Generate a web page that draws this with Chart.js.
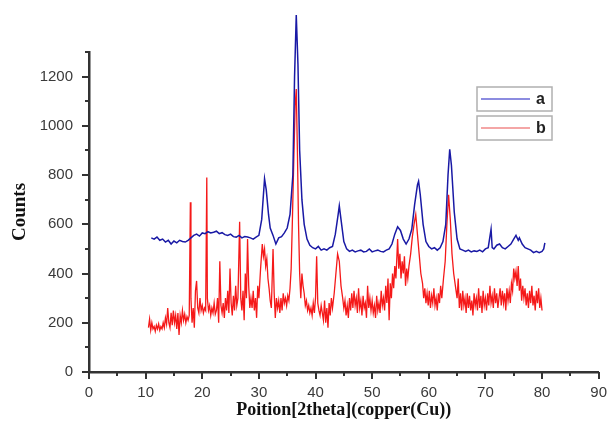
<!DOCTYPE html>
<html>
<head>
<meta charset="utf-8">
<script src="https://cdn.jsdelivr.net/npm/chart.js@4.4.1/dist/chart.umd.min.js"></script>
<style>
  html, body { margin: 0; padding: 0; background: #fff; }
  #wrap { width: 611px; height: 430px; position: relative; }
</style>
</head>
<body>
<div id="wrap"><canvas id="xrd"></canvas></div>
<script>
// sample a (blue)
const angleA = [
  11, 11.5, 12, 12.5, 13, 13.5, 14, 14.5, 15, 15.5,
  16, 16.5, 17, 17.5, 18, 18.5, 19, 19.5, 20, 20.5,
  21, 21.5, 22, 22.5, 23, 23.5, 24, 24.5, 25, 25.5,
  26, 26.5, 27, 27.5, 28, 28.5, 29, 29.5, 30, 30.5,
  31, 31.3, 31.7, 32, 32.5, 33, 33.5, 34, 34.5, 35,
  35.5, 36, 36.3, 36.6, 36.9, 37.2, 37.6, 38, 38.5, 39,
  39.5, 40, 40.5, 41, 41.5, 42, 42.5, 43, 43.5, 44,
  44.2, 44.5, 45, 45.5, 46, 46.5, 47, 47.5, 48, 48.5,
  49, 49.5, 50, 50.5, 51, 51.5, 52, 52.5, 53, 53.5,
  54, 54.5, 55, 55.5, 56, 56.5, 57, 57.5, 58, 58.2,
  58.5, 59, 59.5, 60, 60.5, 61, 61.5, 62, 62.5, 63,
  63.4, 63.7, 64, 64.5, 65, 65.5, 66, 66.5, 67, 67.5,
  68, 68.5, 69, 69.5, 70, 70.5, 71, 71.2, 71.5, 72,
  72.5, 73, 73.5, 74, 74.5, 75, 75.4, 75.8, 76, 76.5,
  77, 77.5, 78, 78.5, 79, 79.5, 80, 80.3, 80.5
]
const countsA = [
  545, 540, 548, 535, 540, 528, 535, 520, 532, 525,
  535, 530, 528, 535, 545, 555, 560, 552, 565, 562,
  570, 565, 568, 572, 562, 566, 558, 555, 560, 550,
  548, 555, 545, 550, 548, 545, 540, 548, 555, 620,
  785, 740, 640, 585, 555, 520, 545, 550, 565, 585,
  640, 800, 1200, 1450, 1250, 900, 700, 600, 540, 515,
  505, 500, 510, 495, 500, 495, 505, 510, 560, 640,
  675, 620, 530, 500, 490, 495, 488, 492, 495, 488,
  490, 500, 488, 492, 495, 490, 488, 495, 500, 520,
  560, 590, 575, 540, 520, 540, 580, 680, 760, 775,
  720, 600, 530, 510, 500, 505, 495, 505, 530, 600,
  800, 905, 840, 650, 540, 500, 495, 490, 495, 488,
  492, 490, 495, 488, 500, 505, 580, 505, 500, 515,
  520, 505, 500, 510, 520, 540, 555, 535, 545, 520,
  505, 500, 495, 485, 490, 485, 490, 500, 525
]

// sample b (red)
const angleB = [
  10.5, 10.7, 10.9, 11.1, 11.3, 11.5, 11.7, 11.9, 12.1, 12.3,
  12.5, 12.7, 12.9, 13.1, 13.3, 13.5, 13.7, 13.9, 14.1, 14.3,
  14.5, 14.7, 14.9, 15.1, 15.3, 15.5, 15.7, 15.9, 16.1, 16.3,
  16.5, 16.7, 16.9, 17.1, 17.3, 17.5, 17.7, 17.9, 18, 18.2,
  18.4, 18.6, 18.8, 19, 19.2, 19.4, 19.6, 19.8, 20, 20.2,
  20.4, 20.6, 20.8, 20.9, 21.1, 21.3, 21.5, 21.7, 21.9, 22.1,
  22.3, 22.5, 22.7, 22.9, 23.1, 23.3, 23.5, 23.7, 23.9, 24.1,
  24.3, 24.5, 24.7, 24.9, 25.1, 25.3, 25.5, 25.7, 25.9, 26.1,
  26.3, 26.6, 26.8, 27, 27.2, 27.4, 27.6, 27.8, 28, 28.2,
  28.4, 28.6, 28.8, 29, 29.2, 29.4, 29.6, 29.8, 30, 30.3,
  30.6, 30.8, 31, 31.2, 31.4, 31.6, 31.8, 32, 32.2, 32.5,
  32.7, 32.9, 33.1, 33.3, 33.5, 33.7, 33.9, 34.1, 34.3, 34.5,
  34.7, 34.9, 35.1, 35.3, 35.5, 35.7, 35.9, 36.1, 36.4, 36.6,
  36.8, 37, 37.2, 37.4, 37.6, 37.8, 38, 38.2, 38.4, 38.6,
  38.8, 39, 39.2, 39.4, 39.6, 39.8, 40, 40.2, 40.4, 40.6,
  40.8, 41, 41.2, 41.4, 41.6, 41.8, 42, 42.2, 42.4, 42.6,
  42.8, 43, 43.3, 43.6, 43.9, 44.2, 44.5, 44.8, 45, 45.2,
  45.4, 45.6, 45.8, 46, 46.2, 46.4, 46.6, 46.8, 47, 47.2,
  47.4, 47.6, 47.8, 48, 48.2, 48.4, 48.6, 48.8, 49, 49.2,
  49.4, 49.6, 49.8, 50, 50.2, 50.4, 50.6, 50.8, 51, 51.2,
  51.4, 51.6, 51.8, 52, 52.2, 52.4, 52.6, 52.8, 53, 53.2,
  53.4, 53.6, 53.8, 54, 54.2, 54.5, 54.7, 54.9, 55.1, 55.3,
  55.5, 55.7, 55.9, 56.1, 56.3, 56.5, 56.8, 57.1, 57.4, 57.7,
  58, 58.3, 58.6, 58.9, 59.1, 59.3, 59.5, 59.7, 59.9, 60.1,
  60.3, 60.5, 60.7, 60.9, 61.1, 61.3, 61.5, 61.7, 61.9, 62.1,
  62.3, 62.6, 62.9, 63.2, 63.5, 63.8, 64.1, 64.4, 64.7, 65,
  65.2, 65.4, 65.6, 65.8, 66, 66.2, 66.4, 66.6, 66.8, 67,
  67.2, 67.4, 67.6, 67.8, 68, 68.2, 68.4, 68.6, 68.8, 69,
  69.2, 69.4, 69.6, 69.8, 70, 70.2, 70.4, 70.6, 70.8, 71,
  71.2, 71.4, 71.6, 71.8, 72, 72.2, 72.4, 72.6, 72.8, 73,
  73.2, 73.4, 73.6, 73.8, 74, 74.2, 74.4, 74.6, 74.8, 75,
  75.2, 75.4, 75.6, 75.8, 76, 76.2, 76.4, 76.6, 76.8, 77,
  77.2, 77.4, 77.6, 77.8, 78, 78.2, 78.4, 78.6, 78.8, 79,
  79.2, 79.4, 79.6, 79.8, 80
]
const countsB = [
  180, 215, 170, 200, 175, 185, 165, 190, 175, 195,
  170, 185, 175, 200, 180, 220, 195, 260, 200, 180,
  240, 190, 250, 200, 230, 175, 240, 150, 230, 200,
  250, 210, 235, 200, 225, 210, 230, 690, 300, 200,
  260, 180, 330, 370, 260, 240, 300, 250, 270, 240,
  260, 250, 790, 300, 250, 270, 230, 260, 240, 280,
  235, 250, 300, 200, 450, 270, 240, 280, 220, 300,
  250, 330, 240, 420, 280, 230, 310, 250, 350, 270,
  300, 610, 300, 250, 330, 210, 400, 300, 540, 350,
  260, 300, 260, 330, 250, 300, 220, 350, 300, 420,
  520, 470, 500, 430, 460, 380, 340, 290, 260, 500,
  320, 220, 300, 260, 290, 240, 300, 250, 320, 280,
  300, 270, 310, 290, 340, 420, 600, 800, 1080, 1150,
  900, 600, 400, 300, 400, 350, 320, 270, 290, 250,
  270, 240, 260, 230, 280, 240, 300, 470, 280, 250,
  230, 270, 240, 210, 290, 200, 260, 180, 280, 230,
  300, 260, 320, 400, 480, 450, 350, 300, 260, 290,
  230, 270, 220, 300, 250, 320, 260, 330, 270, 300,
  240, 340, 260, 290, 230, 310, 260, 280, 220, 350,
  260, 300, 250, 290, 240, 270, 220, 310, 250, 280,
  240, 330, 270, 300, 250, 350, 280, 380, 210, 360,
  300, 400, 340, 430, 380, 540, 420, 480, 380, 450,
  400, 470, 350, 420, 380, 430, 480, 550, 600, 640,
  560, 480, 400, 360, 300, 340, 280, 320, 270, 330,
  260, 310, 280, 340, 270, 300, 250, 320, 280, 350,
  300, 380, 450, 600, 720, 620, 480, 400, 350, 300,
  380, 260, 320, 250, 330, 270, 300, 240, 320, 260,
  310, 250, 290, 230, 320, 270, 300, 250, 340, 260,
  310, 240, 330, 270, 300, 250, 320, 270, 350, 280,
  310, 260, 340, 280, 320, 260, 300, 340, 270, 330,
  280, 320, 250, 340, 290, 330, 280, 360, 330, 420,
  380, 410, 350, 430, 330, 380, 290, 350, 300, 340,
  270, 320, 260, 330, 280, 350, 270, 310, 250, 330,
  280, 340, 260, 300, 250
]

const seriesLabels = ['a', 'b']
const axisColor = '#333'

const toPoints = (xs, ys) => xs.map((x, i) => ({ x, y: ys[i] }))

// tick marks: long on labelled ticks, short on the in-between ones
const tickMarks = {
  id: 'tickMarks',
  afterDraw (chart) {
    const ctx = chart.ctx
    const xs = chart.scales.x
    const ys = chart.scales.y
    ctx.save()
    ctx.strokeStyle = axisColor
    ctx.lineWidth = 2
    xs.ticks.forEach(t => {
      const px = Math.round(xs.getPixelForValue(t.value))
      const len = t.value % 10 === 0 ? 7 : 4
      ctx.beginPath()
      ctx.moveTo(px, xs.top)
      ctx.lineTo(px, xs.top + len)
      ctx.stroke()
    })
    ys.ticks.forEach(t => {
      const py = Math.round(ys.getPixelForValue(t.value))
      const len = t.value % 200 === 0 ? 7 : 4
      ctx.beginPath()
      ctx.moveTo(ys.right, py)
      ctx.lineTo(ys.right - len, py)
      ctx.stroke()
    })
    ctx.restore()
  }
}

// one framed box per series, like the original
const boxedLegend = {
  id: 'boxedLegend',
  afterDraw (chart) {
    const ctx = chart.ctx
    const lineColors = ['#8c8ce0', '#f4a6a6']
    ctx.save()
    chart.data.datasets.forEach((ds, i) => {
      const left = 477
      const top = 87 + i * 29
      ctx.fillStyle = '#fff'
      ctx.fillRect(left, top, 75, 24)
      ctx.strokeStyle = '#b0b0b0'
      ctx.lineWidth = 1.5
      ctx.strokeRect(left, top, 75, 24)
      ctx.strokeStyle = lineColors[i]
      ctx.lineWidth = 2
      ctx.beginPath()
      ctx.moveTo(left + 4, top + 12)
      ctx.lineTo(left + 53, top + 12)
      ctx.stroke()
      ctx.fillStyle = '#222'
      ctx.font = 'bold 16px "Liberation Sans", Arial, sans-serif'
      ctx.textBaseline = 'middle'
      ctx.fillText(ds.label, left + 59, top + 13)
    })
    ctx.restore()
  }
}

new Chart(document.getElementById('xrd'), {
  type: 'line',
  data: {
    datasets: [
      {
        label: seriesLabels[0],
        data: toPoints(angleA, countsA),
        borderColor: 'rgb(25, 25, 165)',
        borderWidth: 1.5,
        pointRadius: 0,
        tension: 0,
        clip: false
      },
      {
        label: seriesLabels[1],
        data: toPoints(angleB, countsB),
        borderColor: 'rgb(245, 25, 25)',
        borderWidth: 1.3,
        pointRadius: 0,
        tension: 0,
        clip: false
      }
    ]
  },
  options: {
    responsive: true,
    maintainAspectRatio: false,
    animation: false,
    layout: { padding: { left: 0, right: 7, top: 52, bottom: 0 } },
    plugins: {
      legend: { display: false },
      tooltip: { enabled: false }
    },
    scales: {
      x: {
        type: 'linear',
        min: 0,
        max: 90,
        grid: { display: false },
        border: { display: true, color: axisColor, width: 2.5 },
        ticks: {
          stepSize: 5,
          padding: 4,
          color: '#3a3a3a',
          font: { family: '"Liberation Sans", Arial, sans-serif', size: 15 },
          maxRotation: 0,
          autoSkip: false,
          callback: (v) => (v % 10 === 0 ? String(v) : '')
        },
        title: {
          display: true,
          text: 'Poition[2theta](copper(Cu))',
          color: '#111',
          font: { family: '"Liberation Serif", "Times New Roman", serif', size: 18, weight: 'bold' },
          padding: { top: 0, bottom: 9 }
        },
        afterFit: (scale) => { scale.height = 58 }
      },
      y: {
        min: 0,
        max: 1300,
        grid: { display: false },
        border: { display: true, color: axisColor, width: 2.5 },
        ticks: {
          stepSize: 100,
          padding: 8,
          color: '#3a3a3a',
          font: { family: '"Liberation Sans", Arial, sans-serif', size: 15 },
          autoSkip: false,
          callback: (v) => (v % 200 === 0 ? String(v) : '')
        },
        title: {
          display: true,
          text: 'Counts',
          color: '#111',
          font: { family: '"Liberation Serif", "Times New Roman", serif', size: 19, weight: 'bold' },
          padding: { top: 9, bottom: 0 }
        },
        afterFit: (scale) => { scale.width = 89 }
      }
    }
  },
  plugins: [tickMarks, boxedLegend]
})
</script>
</body>
</html>
